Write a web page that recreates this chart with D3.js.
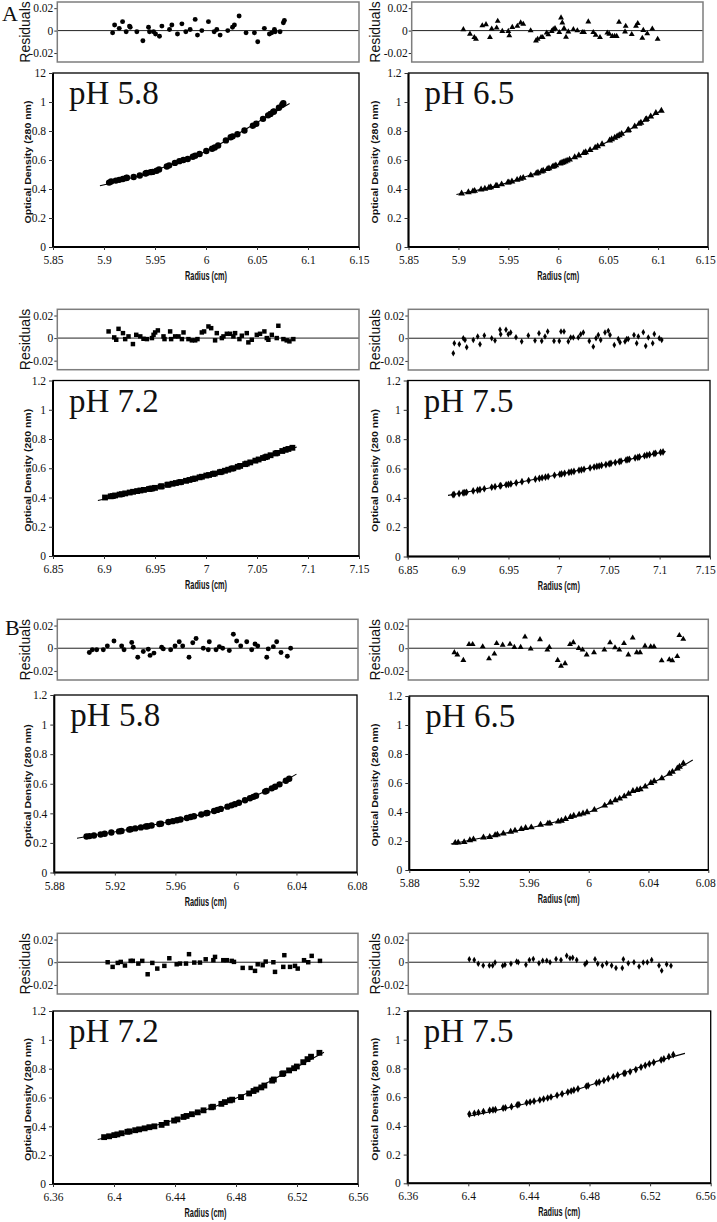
<!DOCTYPE html>
<html lang="en">
<head>
<meta charset="UTF-8">
<title>Sedimentation equilibrium fits and residuals</title>
<script src="https://d3js.org/d3.v7.min.js"></script>
<style>
  body { margin: 0; background: #fff; }
  svg text { fill: #111; }
</style>
</head>
<body>
<svg id="chart" width="717" height="1222"></svg>
<script>
// ---- data ----
// A, pH 5.8
const radiusA58 = [5.9050,5.9070,5.9116,5.9149,5.9185,5.9218,5.9225,5.9291,5.9351,5.9407,5.9417,5.9457,5.9477,5.9516,5.9540,5.9616,5.9639,5.9695,5.9739,5.9778,5.9821,5.9871,5.9894,5.9937,6.0003,6.0060,6.0086,6.0119,6.0195,6.0242,6.0261,6.0308,6.0377,6.0460,6.0493,6.0559,6.0609,6.0632,6.0659,6.0666,6.0715,6.0748,6.0758];
const odA58 = [0.444,0.452,0.458,0.463,0.469,0.476,0.478,0.483,0.493,0.507,0.510,0.516,0.518,0.526,0.535,0.555,0.563,0.580,0.592,0.600,0.607,0.622,0.630,0.641,0.662,0.678,0.686,0.700,0.735,0.757,0.763,0.778,0.803,0.836,0.850,0.884,0.908,0.918,0.932,0.935,0.960,0.982,0.992];
const residA58 = [-0.002,0.005,0.002,0.008,-0.001,0.004,0.003,-0.001,-0.009,0.003,-0.001,-0.001,-0.003,-0.005,0.004,0.001,0.005,-0.003,0.006,-0.001,0.001,0.010,-0.004,0,0.008,-0.001,0.001,-0.004,0,0.003,0.005,0.013,-0.002,-0.002,-0.010,0.002,-0.003,-0.002,0.001,-0.001,-0.001,0.007,0.009];
const fitRA58 = [5.896,5.93,5.96,6.0,6.03,6.06,6.082];
const fitOdA58 = [0.422,0.483,0.553,0.660,0.775,0.900,0.990];

// A, pH 6.5
const radiusA65 = [5.9032,5.9100,5.9145,5.9162,5.9227,5.9265,5.9306,5.9324,5.9375,5.9386,5.9433,5.9495,5.9505,5.9536,5.9588,5.9622,5.9649,5.9725,5.9780,5.9797,5.9832,5.9849,5.9890,5.9907,5.9942,5.9958,5.9976,6.0020,6.0038,6.0051,6.0069,6.0089,6.0113,6.0165,6.0206,6.0257,6.0275,6.0319,6.0370,6.0395,6.0439,6.0515,6.0535,6.0566,6.0590,6.0611,6.0635,6.0697,6.0704,6.0766,6.0810,6.0828,6.0875,6.0885,6.0926,6.0978,6.1033];
const odA65 = [0.369,0.378,0.384,0.387,0.397,0.402,0.409,0.412,0.421,0.423,0.432,0.444,0.446,0.452,0.463,0.471,0.477,0.494,0.507,0.512,0.521,0.526,0.537,0.542,0.553,0.557,0.563,0.576,0.581,0.585,0.590,0.596,0.603,0.619,0.631,0.648,0.654,0.668,0.685,0.694,0.709,0.735,0.743,0.754,0.763,0.771,0.780,0.804,0.807,0.831,0.849,0.857,0.878,0.882,0.900,0.924,0.940];
const residA65 = [0.001,-0.003,-0.006,-0.0076,0.0045,0.0055,-0.006,0.0015,0.0024,0.0085,-0.0006,-0.0006,-0.0045,0.003,0.004,0.007,0.0058,0,-0.009,-0.0076,-0.006,-0.006,-0.002,-0.0036,-0.0006,0.001,0.002,-0.0015,0.0115,0.007,0.002,-0.0058,-0.001,0.001,0,-0.0015,-0.0015,0.0079,-0.0015,-0.004,-0.006,-0.002,-0.003,-0.005,-0.005,-0.005,0.0076,-0.001,0.004,-0.0033,0.004,0.0064,-0.0067,0.0003,-0.0027,0.0015,-0.0076];
const fitRA65 = [5.898,5.95,6.0,6.05,6.104];
const fitOdA65 = [0.362,0.445,0.570,0.728,0.945];

// A, pH 7.2
const radiusA72 = [6.9010,6.9066,6.9086,6.9109,6.9153,6.9175,6.9208,6.9252,6.9285,6.9325,6.9357,6.9391,6.9441,6.9457,6.9473,6.9500,6.9556,6.9566,6.9622,6.9632,6.9672,6.9705,6.9739,6.9755,6.9804,6.9838,6.9871,6.9894,6.9937,6.9960,7.0003,7.0030,7.0069,7.0086,7.0136,7.0152,7.0186,7.0218,7.0251,7.0268,7.0311,7.0335,7.0384,7.0400,7.0434,7.0484,7.0516,7.0559,7.0583,7.0599,7.0633,7.0682,7.0698,7.0748,7.0781,7.0808,7.0847];
const odA72 = [0.400,0.408,0.410,0.414,0.420,0.423,0.428,0.434,0.439,0.444,0.448,0.452,0.458,0.460,0.462,0.466,0.475,0.477,0.487,0.488,0.494,0.499,0.504,0.506,0.514,0.520,0.526,0.530,0.538,0.542,0.550,0.554,0.561,0.564,0.573,0.576,0.583,0.590,0.597,0.600,0.610,0.616,0.628,0.632,0.640,0.652,0.660,0.670,0.676,0.680,0.689,0.701,0.705,0.718,0.726,0.732,0.740];
const residA72 = [0.0059,0.0006,-0.0015,0.0082,0.0044,-0.0009,0.0015,-0.0053,0.0029,0.0015,-0.0006,-0.0009,0,0.0029,0.005,0.0068,0.0015,-0.0009,0.0059,-0.0009,0.0015,0.0015,-0.0009,0.005,-0.0009,-0.002,-0.002,-0.0009,0.005,0.0059,0.0103,0.0088,-0.002,0.0044,0,0.0015,0.0038,0.0038,0.0015,0.0044,-0.0009,0.0021,0.0044,-0.0038,-0.0015,0.0029,0.0038,0.0059,0,-0.0015,0.0029,0,0.0109,-0.0009,-0.002,-0.0029,-0.0009];
const fitRA72 = [6.894,6.95,7.0,7.05,7.089];
const fitOdA72 = [0.380,0.466,0.549,0.656,0.745];

// A, pH 7.5
const radiusA75 = [6.8950,6.8960,6.9010,6.9050,6.9067,6.9084,6.9150,6.9194,6.9217,6.9260,6.9334,6.9367,6.9417,6.9424,6.9477,6.9500,6.9524,6.9577,6.9634,6.9700,6.9767,6.9807,6.9834,6.9867,6.9894,6.9957,7.0010,7.0027,7.0057,7.0100,7.0124,7.0150,7.0200,7.0224,7.0250,7.0310,7.0350,7.0377,7.0400,7.0424,7.0467,7.0500,7.0517,7.0560,7.0600,7.0617,7.0667,7.0684,7.0700,7.0757,7.0784,7.0800,7.0850,7.0874,7.0900,7.0944,7.0960,7.1010,7.1034];
const odA75 = [0.421,0.423,0.429,0.434,0.436,0.438,0.447,0.453,0.456,0.462,0.472,0.476,0.482,0.483,0.489,0.492,0.495,0.502,0.510,0.518,0.527,0.533,0.537,0.541,0.545,0.554,0.561,0.563,0.567,0.573,0.577,0.580,0.588,0.591,0.595,0.604,0.610,0.614,0.617,0.621,0.627,0.632,0.635,0.641,0.647,0.650,0.658,0.661,0.663,0.672,0.676,0.679,0.687,0.691,0.695,0.702,0.704,0.710,0.713];
const residA75 = [-0.0132,-0.0044,-0.0053,0,-0.0015,-0.0079,-0.0015,0.0015,-0.0053,0.0024,0,-0.0021,0.0074,0.0035,0.0074,0.0035,0.005,0.0009,-0.0029,0.0024,-0.0021,0.0044,-0.0024,0.0015,0.0059,-0.0024,-0.0024,0.0059,0.0059,-0.0029,0.0006,0.0006,0.0006,0.0035,0.005,-0.0024,-0.0074,0,0.0029,-0.0015,0.005,0.0065,0.0029,-0.0059,-0.0006,-0.0035,-0.0029,-0.0006,-0.0006,0.0029,-0.0044,0.0015,0.0053,-0.0068,0.0006,-0.0044,0.0038,0,-0.0015];
const fitRA75 = [6.890,6.95,7.0,7.05,7.106];
const fitOdA75 = [0.417,0.491,0.559,0.632,0.716];

// B, pH 5.8
const radiusB58 = [5.9013,5.9033,5.9062,5.9106,5.9133,5.9177,5.9228,5.9244,5.9295,5.9305,5.9335,5.9372,5.9405,5.9417,5.9443,5.9494,5.9505,5.9554,5.9583,5.9611,5.9634,5.9676,5.9701,5.9723,5.9771,5.9804,5.9811,5.9856,5.9878,5.9900,5.9944,5.9971,5.9993,6.0020,6.0060,6.0093,6.0115,6.0133,6.0193,6.0203,6.0237,6.0259,6.0288,6.0330,6.0352];
const odB58 = [0.243,0.246,0.250,0.257,0.262,0.270,0.278,0.281,0.290,0.292,0.298,0.305,0.311,0.313,0.318,0.328,0.330,0.341,0.347,0.353,0.358,0.368,0.375,0.380,0.392,0.401,0.403,0.416,0.423,0.430,0.445,0.454,0.462,0.472,0.488,0.502,0.511,0.519,0.547,0.552,0.569,0.580,0.596,0.620,0.634];
const residB58 = [-0.0037,-0.0014,-0.0014,-0.0014,0.002,0.0063,0.002,-0.0014,0.0051,0.0009,-0.008,-0.0029,-0.0009,-0.0063,-0.0043,0.0009,-0.0006,-0.0014,0.002,0.0057,0.002,-0.008,0.0049,0.0086,0,-0.0014,0.0057,-0.0014,0.0014,0,-0.002,0.0123,0.0063,0.002,0.0057,-0.0014,0.0037,0.002,-0.008,-0.0006,0.0014,0.0057,-0.0037,-0.0071,0];
const fitRB58 = [5.895,5.93,5.96,5.99,6.02,6.04];
const fitOdB58 = [0.232,0.292,0.351,0.430,0.552,0.665];

// B, pH 6.5
const radiusB65 = [5.9107,5.9127,5.9167,5.9205,5.9229,5.9296,5.9338,5.9374,5.9389,5.9429,5.9478,5.9507,5.9549,5.9578,5.9616,5.9678,5.9727,5.9740,5.9796,5.9818,5.9845,5.9878,5.9900,5.9936,5.9962,5.9989,6.0038,6.0107,6.0145,6.0178,6.0207,6.0238,6.0267,6.0296,6.0323,6.0345,6.0378,6.0416,6.0438,6.0489,6.0540,6.0560,6.0593,6.0607,6.0633];
const odB65 = [0.187,0.189,0.192,0.205,0.211,0.224,0.228,0.240,0.244,0.251,0.264,0.272,0.282,0.290,0.294,0.312,0.320,0.322,0.334,0.340,0.352,0.366,0.374,0.382,0.390,0.398,0.415,0.444,0.466,0.481,0.492,0.508,0.525,0.545,0.552,0.557,0.575,0.600,0.612,0.632,0.664,0.677,0.700,0.712,0.735];
const residB65 = [-0.0037,-0.0057,-0.0106,0.0034,0.0034,0.0014,-0.0091,-0.0049,0.0043,0.0029,0.0037,0.0009,0.0009,0.01,-0.0006,0.0077,-0.0014,0.0009,-0.0106,-0.0157,-0.0134,0.0034,0.0051,0,-0.0014,-0.0057,-0.0037,-0.0014,0.0049,0.0006,-0.0014,0.0043,-0.0057,0.0091,-0.0037,-0.0037,0.002,0.0014,0.0014,-0.0109,-0.01,-0.0109,-0.0071,0.0114,0.008];
const fitRB65 = [5.9078,5.94,5.97,6.0,6.03,6.05,6.0696];
const fitOdB65 = [0.179,0.245,0.312,0.398,0.540,0.640,0.759];

// B, pH 7.2
const radiusB72 = [6.3935,6.3968,6.4002,6.4022,6.4050,6.4088,6.4102,6.4139,6.4165,6.4201,6.4232,6.4265,6.4312,6.4345,6.4394,6.4416,6.4456,6.4476,6.4511,6.4549,6.4587,6.4638,6.4649,6.4704,6.4727,6.4760,6.4775,6.4833,6.4886,6.4915,6.4933,6.4966,6.4986,6.5037,6.5048,6.5103,6.5110,6.5148,6.5181,6.5199,6.5241,6.5269,6.5292,6.5347];
const odB72 = [0.325,0.331,0.339,0.344,0.352,0.362,0.365,0.373,0.379,0.386,0.394,0.400,0.410,0.424,0.440,0.448,0.465,0.472,0.484,0.497,0.511,0.532,0.536,0.556,0.568,0.580,0.585,0.603,0.628,0.645,0.655,0.670,0.683,0.717,0.725,0.763,0.768,0.788,0.803,0.815,0.845,0.866,0.883,0.910];
const residB72 = [0,-0.0041,-0.0006,0.0003,-0.0029,0.0012,0.0012,-0.0012,0.0012,-0.0106,-0.0006,-0.0056,-0.0032,0.0035,-0.0018,-0.0012,-0.0012,0.0071,-0.0003,-0.0003,0.0026,0.0018,0.0047,0.0018,0.0018,0.0012,0.0003,-0.005,-0.005,-0.0076,-0.0018,-0.0026,0.0006,0,-0.0085,-0.0041,0.0062,-0.0041,-0.0032,-0.0056,0.0018,0,0.0056,0.0012];
const fitRB72 = [6.3893,6.42,6.45,6.48,6.51,6.5377];
const fitOdB72 = [0.309,0.385,0.478,0.594,0.756,0.914];

// B, pH 7.5
const radiusB75 = [6.4007,6.4040,6.4067,6.4100,6.4141,6.4163,6.4179,6.4230,6.4245,6.4285,6.4323,6.4334,6.4385,6.4408,6.4434,6.4472,6.4497,6.4524,6.4546,6.4586,6.4619,6.4657,6.4679,6.4697,6.4724,6.4779,6.4791,6.4846,6.4864,6.4895,6.4924,6.4957,6.4986,6.5028,6.5035,6.5068,6.5106,6.5140,6.5168,6.5195,6.5224,6.5273,6.5291,6.5324,6.5353];
const odB75 = [0.482,0.488,0.493,0.500,0.508,0.511,0.513,0.523,0.526,0.534,0.546,0.549,0.561,0.566,0.572,0.580,0.587,0.594,0.601,0.613,0.623,0.635,0.643,0.649,0.658,0.676,0.680,0.699,0.705,0.716,0.729,0.742,0.753,0.765,0.767,0.777,0.792,0.809,0.821,0.832,0.842,0.859,0.866,0.882,0.896];
const residB75 = [0.0026,0.002,-0.0014,-0.0029,-0.0029,-0.0029,-0.0003,-0.0031,-0.0023,-0.0014,0.0006,0,-0.0023,0.002,0.0029,-0.0009,0.0014,0.0014,0,0.0029,0.002,0.0057,0.0034,0.004,0.002,-0.0017,-0.0003,0.0026,-0.0014,-0.0029,-0.0009,-0.0029,-0.0051,-0.0051,0.0026,-0.0009,0,-0.0037,-0.0003,0,0.002,-0.0029,-0.0074,-0.0017,-0.0031];
const fitRB75 = [6.40,6.43,6.46,6.49,6.52,6.543];
const fitOdB75 = [0.467,0.535,0.615,0.718,0.835,0.905];

// ticks
const yTicksMain = [0, 0.2, 0.4, 0.6, 0.8, 1, 1.2];
const yLabelsMain = ["0", "0.2", "0.4", "0.6", "0.8", "1", "1.2"];
const yLabelsA58 = ["0", "0.2", "0.4", "0.6", "0.8", "1", "12"];
const residTicks = [-0.02, 0, 0.02];
const residLabels = ["-0.02", "0", "0.02"];
const xTicksRow1 = [5.85, 5.9, 5.95, 6, 6.05, 6.1, 6.15];
const xLabelsRow1 = ["5.85", "5.9", "5.95", "6", "6.05", "6.1", "6.15"];
const xTicksRow2 = [6.85, 6.9, 6.95, 7, 7.05, 7.1, 7.15];
const xLabelsRow2 = ["6.85", "6.9", "6.95", "7", "7.05", "7.1", "7.15"];
const xTicksRow3 = [5.88, 5.92, 5.96, 6, 6.04, 6.08];
const xLabelsRow3 = ["5.88", "5.92", "5.96", "6", "6.04", "6.08"];
const xTicksRow4 = [6.36, 6.4, 6.44, 6.48, 6.52, 6.56];
const xLabelsRow4 = ["6.36", "6.4", "6.44", "6.48", "6.52", "6.56"];

const residDomain = [-0.028, 0.0255];

// layout: main = [left, right, top, bottom], box = residual panel
const panels = [
  { name: "pH 5.8", shape: d3.symbolCircle, r: radiusA58, od: odA58, res: residA58, fr: fitRA58, fo: fitOdA58,
    xDom: [5.85, 6.15], xt: xTicksRow1, xl: xLabelsRow1, yl: yLabelsA58,
    main: [53, 359, 73, 247], box: [57.3, 359, 2, 62], col: 0 },
  { name: "pH 6.5", shape: d3.symbolTriangle, r: radiusA65, od: odA65, res: residA65, fr: fitRA65, fo: fitOdA65,
    xDom: [5.85, 6.15], xt: xTicksRow1, xl: xLabelsRow1, yl: yLabelsMain,
    main: [408.5, 708, 73, 247], box: [411.7, 703, 2, 62], col: 1 },
  { name: "pH 7.2", shape: d3.symbolSquare, r: radiusA72, od: odA72, res: residA72, fr: fitRA72, fo: fitOdA72,
    xDom: [6.85, 7.15], xt: xTicksRow2, xl: xLabelsRow2, yl: yLabelsMain,
    main: [53, 359, 380.5, 556], box: [57.3, 359, 309.3, 369.7], col: 0 },
  { name: "pH 7.5", shape: d3.symbolDiamond, r: radiusA75, od: odA75, res: residA75, fr: fitRA75, fo: fitOdA75,
    xDom: [6.85, 7.15], xt: xTicksRow2, xl: xLabelsRow2, yl: yLabelsMain,
    main: [407.7, 710, 380.5, 556.5], box: [408.3, 708.3, 309.3, 370], col: 1 },
  { name: "pH 5.8", shape: d3.symbolCircle, r: radiusB58, od: odB58, res: residB58, fr: fitRB58, fo: fitOdB58,
    xDom: [5.88, 6.08], xt: xTicksRow3, xl: xLabelsRow3, yl: yLabelsMain,
    main: [54.3, 357, 695, 872.5], box: [57.3, 358, 619.3, 680], col: 0 },
  { name: "pH 6.5", shape: d3.symbolTriangle, r: radiusB65, od: odB65, res: residB65, fr: fitRB65, fo: fitOdB65,
    xDom: [5.88, 6.08], xt: xTicksRow3, xl: xLabelsRow3, yl: yLabelsMain,
    main: [409.3, 708.3, 696, 870], box: [408.3, 708.3, 619.3, 680], col: 1 },
  { name: "pH 7.2", shape: d3.symbolSquare, r: radiusB72, od: odB72, res: residB72, fr: fitRB72, fo: fitOdB72,
    xDom: [6.36, 6.56], xt: xTicksRow4, xl: xLabelsRow4, yl: yLabelsMain,
    main: [53, 358, 1011, 1184], box: [57.3, 358, 933.3, 994], col: 0 },
  { name: "pH 7.5", shape: d3.symbolDiamond, r: radiusB75, od: odB75, res: residB75, fr: fitRB75, fo: fitOdB75,
    xDom: [6.36, 6.56], xt: xTicksRow4, xl: xLabelsRow4, yl: yLabelsMain,
    main: [407.7, 710.7, 1011, 1183.3], box: [408.3, 708, 933.3, 994], col: 1 }
];

const serif = "'Liberation Serif', 'Times New Roman', serif";
const sans = "'Liberation Sans', Arial, sans-serif";

// marker sizes for main plot / residual plot
function markSize(shape, small) {
  if (shape === d3.symbolCircle) return small ? 19 : 32;
  if (shape === d3.symbolTriangle) return small ? 15 : 20;
  if (shape === d3.symbolSquare) return small ? 20 : 34;
  return small ? 12 : 17;
}

const svg = d3.select("#chart");
svg.append("rect").attr("width", 717).attr("height", 1222).attr("fill", "#fff");

function styleTicks(g) {
  g.select(".domain").remove();
  g.selectAll(".tick line").attr("stroke", "#333");
  g.selectAll(".tick text")
    .style("font-family", serif)
    .style("font-size", "11.5px")
    .attr("fill", "#111");
}

panels.forEach(p => {
  const [mx0, mx1, my0, my1] = p.main;
  const [bx0, bx1, by0, by1] = p.box;
  const g = svg.append("g");

  const x = d3.scaleLinear().domain(p.xDom).range([mx0, mx1]);
  const y = d3.scaleLinear().domain([0, 1.2]).range([my1, my0]);
  const xr = d3.scaleLinear().domain(p.xDom).range([bx0, bx1]);
  const yr = d3.scaleLinear().domain(residDomain).range([by1, by0]);

  // ---- residual panel ----
  g.append("line")
    .attr("x1", bx0).attr("x2", bx1)
    .attr("y1", yr(0)).attr("y2", yr(0))
    .attr("stroke", "#222").attr("stroke-width", 1);

  g.append("g")
    .attr("transform", `translate(${bx0},0)`)
    .call(d3.axisLeft(yr).tickValues(residTicks).tickFormat((d, i) => residLabels[i]).tickSize(3).tickPadding(1))
    .call(styleTicks);

  const resSym = d3.symbol().type(p.shape).size(markSize(p.shape, true));
  g.append("g").selectAll("path")
    .data(p.r.map((r, i) => ({ r: r, v: p.res[i] })))
    .join("path")
    .attr("d", resSym)
    .attr("transform", d => `translate(${xr(d.r)},${yr(d.v)})`)
    .attr("fill", "#000");

  g.append("rect")
    .attr("x", bx0).attr("y", by0)
    .attr("width", bx1 - bx0).attr("height", by1 - by0)
    .attr("fill", "none").attr("stroke", "#7d7d7d").attr("stroke-width", 1.5);

  g.append("text")
    .attr("transform", `translate(${p.col === 0 ? 25 : 375},${(by0 + by1) / 2}) rotate(-90)`)
    .attr("text-anchor", "middle").attr("dy", "0.35em")
    .style("font-family", sans).style("font-size", "14px")
    .text("Residuals");

  // ---- main panel ----
  const line = d3.line().x(d => x(d[0])).y(d => y(d[1])).curve(d3.curveMonotoneX);
  g.append("path")
    .datum(p.fr.map((r, i) => [r, p.fo[i]]))
    .attr("d", line)
    .attr("fill", "none").attr("stroke", "#000").attr("stroke-width", 1.1);

  const mainSym = d3.symbol().type(p.shape).size(markSize(p.shape, false));
  g.append("g").selectAll("path")
    .data(p.r.map((r, i) => ({ r: r, v: p.od[i] })))
    .join("path")
    .attr("d", mainSym)
    .attr("transform", d => `translate(${x(d.r)},${y(d.v)})`)
    .attr("fill", "#000");

  g.append("rect")
    .attr("x", mx0).attr("y", my0)
    .attr("width", mx1 - mx0).attr("height", my1 - my0)
    .attr("fill", "none").attr("stroke", "#000").attr("stroke-width", 1.3);
  g.append("path")
    .attr("d", `M${mx0},${my0}V${my1}H${mx1}`)
    .attr("fill", "none").attr("stroke", "#000").attr("stroke-width", 2);

  g.append("g")
    .attr("transform", `translate(${mx0},0)`)
    .call(d3.axisLeft(y).tickValues(yTicksMain).tickFormat((d, i) => p.yl[i]).tickSize(4).tickPadding(3))
    .call(styleTicks);

  const gx = g.append("g")
    .attr("transform", `translate(0,${my1})`)
    .call(d3.axisBottom(x).tickValues(p.xt).tickFormat((d, i) => p.xl[i]).tickSize(3).tickPadding(6))
    .call(styleTicks);
  // keep the last label inside the page, as the original does
  gx.selectAll(".tick text").each(function (d) {
    const b = this.getBBox();
    const right = x(d) + b.x + b.width;
    if (right > 715.5) d3.select(this).attr("x", 715.5 - right);
  });

  g.append("text")
    .attr("transform", `translate(${p.col === 0 ? 27.5 : 374.5},${(my0 + my1) / 2 + 2}) rotate(-90)`)
    .attr("text-anchor", "middle").attr("dy", "0.35em")
    .attr("textLength", 123).attr("lengthAdjust", "spacingAndGlyphs")
    .style("font-family", sans).style("font-size", "9.5px").style("font-weight", "bold")
    .text("Optical Density (280 nm)");

  g.append("text")
    .attr("x", (mx0 + mx1) / 2).attr("y", my1 + 33)
    .attr("text-anchor", "middle")
    .attr("textLength", 42).attr("lengthAdjust", "spacingAndGlyphs")
    .style("font-family", sans).style("font-size", "12px").style("font-weight", "bold")
    .text("Radius (cm)");

  g.append("text")
    .attr("x", mx0 + 16).attr("y", my0 + 31)
    .style("font-family", serif).style("font-size", "33px")
    .text(p.name);
});

// section letters
svg.append("text").attr("x", 2).attr("y", 21)
  .style("font-family", serif).style("font-size", "22px").text("A");
svg.append("text").attr("x", 5).attr("y", 635)
  .style("font-family", serif).style("font-size", "22px").text("B");
</script>
</body>
</html>
